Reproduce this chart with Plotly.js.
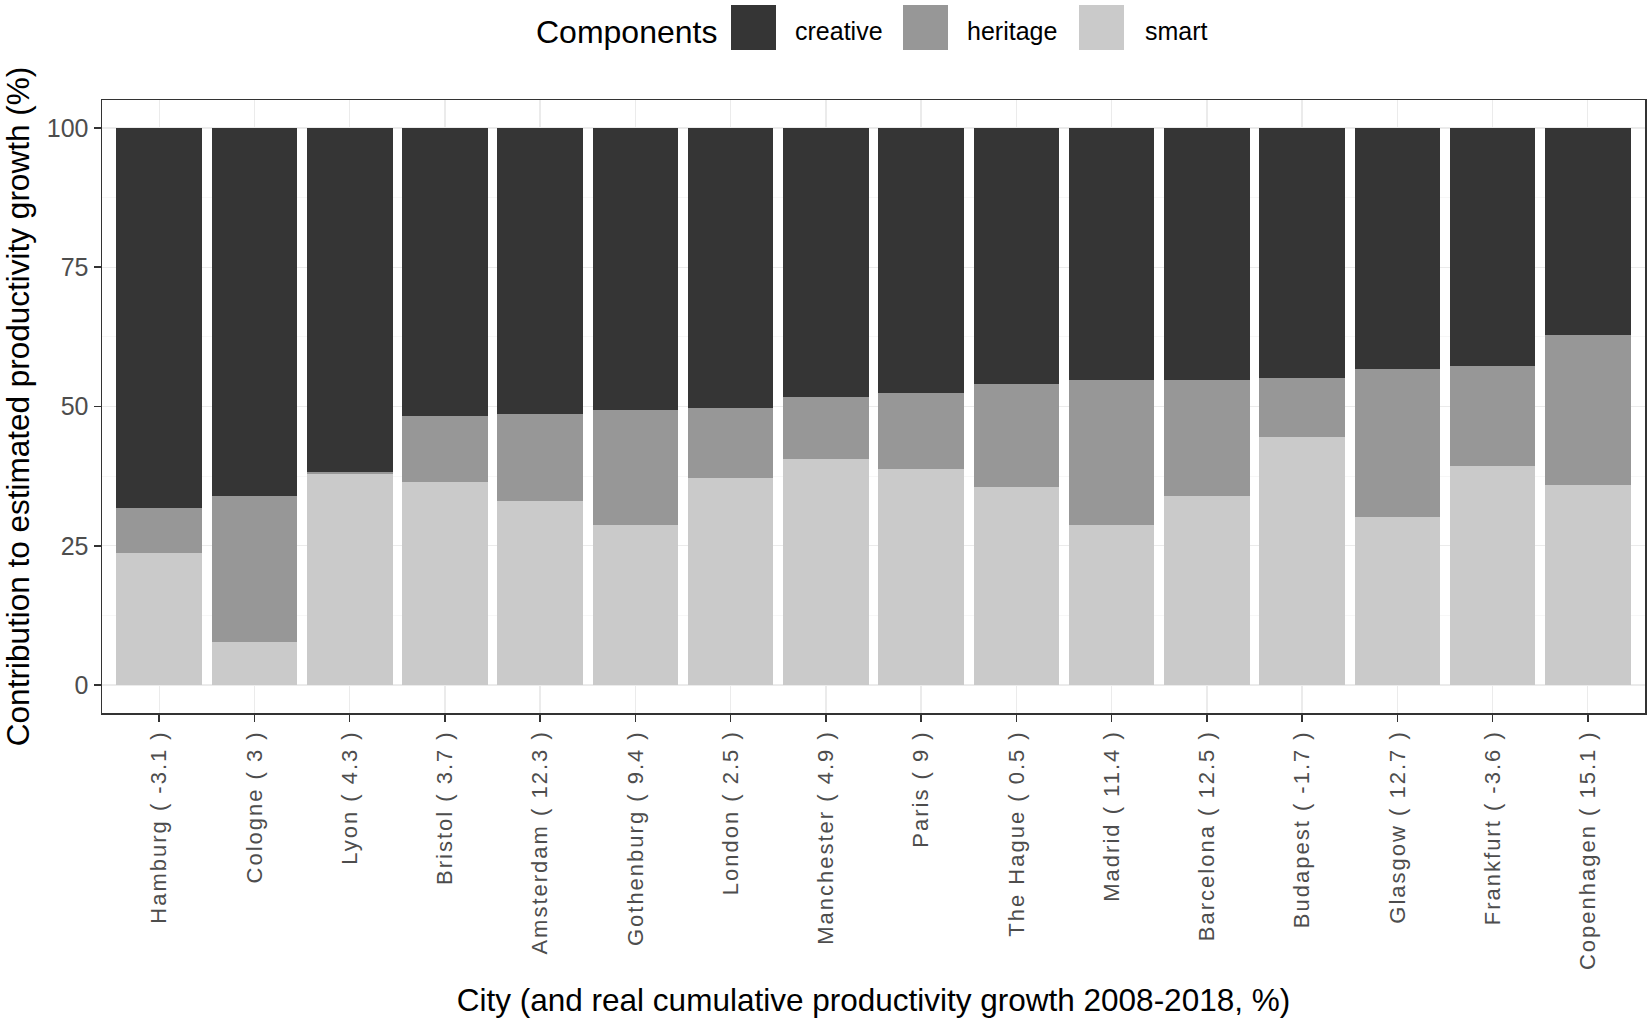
<!DOCTYPE html>
<html>
<head>
<meta charset="utf-8">
<script src="https://cdn.plot.ly/plotly-3.0.1.min.js"></script>
<style>
  html, body { margin: 0; padding: 0; background: #ffffff; }
  #chart { width: 1652px; height: 1034px; }
  .xtick text { letter-spacing: 2px; }
</style>
</head>
<body>
<div id="chart"></div>
<script>
// ---- data ----
const cities = ["Hamburg", "Cologne", "Lyon", "Bristol", "Amsterdam", "Gothenburg", "London", "Manchester",
                "Paris", "The Hague", "Madrid", "Barcelona", "Budapest", "Glasgow", "Frankfurt", "Copenhagen"];
const growth = [-3.1, 3, 4.3, 3.7, 12.3, 9.4, 2.5, 4.9, 9, 0.5, 11.4, 12.5, -1.7, 12.7, -3.6, 15.1];
const smart    = [23.7, 7.7, 37.9, 36.4, 33.0, 28.7, 37.2, 40.6, 38.7, 35.6, 28.7, 34.0, 44.5, 30.2, 39.4, 36.0];
const heritage = [8.0, 26.3, 0.3, 11.9, 15.6, 20.7, 12.6, 11.1, 13.8, 18.4, 26.1, 20.8, 10.7, 26.6, 17.8, 26.9];
const creative = [68.3, 66.0, 61.8, 51.7, 51.4, 50.6, 50.2, 48.3, 47.5, 46.0, 45.2, 45.2, 44.8, 43.2, 42.8, 37.1];
const componentNames = ["creative", "heritage", "smart"];
const yTicks = [0, 25, 50, 75, 100];

const labels = cities.map((c, i) => c + " ( " + growth[i] + " )");
const colors = { creative: "#353535", heritage: "#979797", smart: "#cacaca" };
const FONT = "Liberation Sans, Arial, sans-serif";

function barTrace(name, vals) {
  return {
    type: "bar", name: name, x: labels, y: vals,
    marker: { color: colors[name], line: { width: 0 } },
    showlegend: false, hoverinfo: "x+y+name"
  };
}
const traces = [barTrace("smart", smart), barTrace("heritage", heritage), barTrace("creative", creative)];

// legend drawn as layout shapes/annotations (ggplot style, large keys)
const shapes = [];
const annotations = [];
const W = 1652, H = 1034, L = 102, R = 7, T = 100, B = 321;
const pw = W - L - R, ph = H - T - B;
const px = v => (v - L) / pw;
const py = v => (H - B - v) / ph;
annotations.push({ xref: "paper", yref: "paper", x: px(534), y: py(32), xanchor: "left", yanchor: "middle",
  text: "Components", showarrow: false, font: { family: FONT, size: 32, color: "#000000" } });
const keyX = [731, 903, 1079];
const labX = [793, 965, 1143];
componentNames.forEach((n, i) => {
  shapes.push({ type: "rect", xref: "paper", yref: "paper", x0: px(keyX[i]), x1: px(keyX[i] + 45),
    y0: py(5), y1: py(50), fillcolor: colors[n], line: { width: 0 }, layer: "above" });
  annotations.push({ xref: "paper", yref: "paper", x: px(labX[i]), y: py(31), xanchor: "left", yanchor: "middle",
    text: n, showarrow: false, font: { family: FONT, size: 25, color: "#000000" } });
});

const layout = {
  width: W, height: H,
  margin: { l: L, r: R, t: T, b: B, pad: 0 },
  paper_bgcolor: "#ffffff", plot_bgcolor: "#ffffff",
  barmode: "stack", bargap: 0.1,
  font: { family: FONT, color: "#000000" },
  xaxis: {
    type: "category", range: [-0.6, cities.length - 0.4],
    tickangle: -90, tickfont: { family: FONT, size: 22, color: "#4d4d4d" },
    ticks: "outside", ticklen: 7, tickwidth: 1.5, tickcolor: "#333333",
    showgrid: true, gridcolor: "#ebebeb", gridwidth: 1.3,
    showline: true, linecolor: "#333333", linewidth: 1.5, mirror: true,
    automargin: false, zeroline: false,
    title: { text: "City (and real cumulative productivity growth 2008-2018, %)", standoff: 20,
             font: { family: FONT, size: 31.5, color: "#000000" } }
  },
  yaxis: {
    range: [-5, 105], tickvals: yTicks, ticktext: yTicks.map(String),
    tickfont: { family: FONT, size: 25, color: "#4d4d4d" },
    ticks: "outside", ticklen: 7, tickwidth: 1.5, tickcolor: "#333333",
    showgrid: true, gridcolor: "#ebebeb", gridwidth: 1.3,
    minor: { tick0: 0, dtick: 12.5, showgrid: true, gridcolor: "#f5f5f5", gridwidth: 0.8, ticks: "" },
    showline: true, linecolor: "#333333", linewidth: 1.5, mirror: true,
    automargin: false, zeroline: false,
    title: { text: "Contribution to estimated productivity growth (%)", standoff: 8,
             font: { family: FONT, size: 31.5, color: "#000000" } }
  },
  shapes: shapes,
  annotations: annotations
};

Plotly.newPlot("chart", traces, layout, { displayModeBar: false, staticPlot: true });
</script>
</body>
</html>
